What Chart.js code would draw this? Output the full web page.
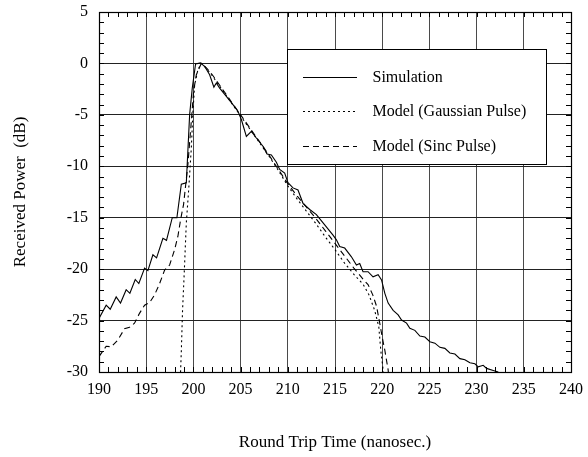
<!DOCTYPE html>
<html>
<head>
<meta charset="utf-8">
<script src="https://cdn.jsdelivr.net/npm/chart.js@4.4.1/dist/chart.umd.min.js"></script>
<style>
  html, body { margin: 0; padding: 0; background: #fff; }
  #wrap { width: 588px; height: 457px; }
</style>
</head>
<body>
<div id="wrap"><canvas id="c" width="588" height="457"></canvas></div>
<script>
// Received power vs. round trip time: simulation and two pulse models
const simTime = [190.0,190.76,191.19,191.82,192.28,192.88,193.27,193.84,194.22,194.83,195.18,195.71,196.1,196.77,197.15,197.76,198.25,198.72,199.25,199.6,199.88,200.23,200.75,201.2,201.72,202.17,202.43,202.78,203.49,204.19,204.72,205.08,205.61,206.14,206.67,207.37,207.8,208.26,208.79,209.14,209.67,210.02,210.55,211.08,211.61,212.32,213.03,213.91,214.79,215.15,215.5,216.03,216.74,217.27,217.62,217.97,218.5,219.03,219.57,219.93,220.28,220.63,221.16,221.69,222.05,222.58,222.93,223.46,223.99,224.52,225.05,225.58,226.11,226.64,227.17,227.7,228.23,228.76,229.29,229.82,230.17,230.7,231.06,231.76,232.3];
const simPower = [-24.8,-23.5,-23.9,-22.7,-23.3,-22.0,-22.35,-21.0,-21.4,-19.9,-20.15,-18.6,-18.9,-17.0,-17.2,-15.0,-15.0,-11.75,-11.6,-5.0,-2.4,-0.05,0.05,-0.3,-1.1,-2.3,-1.9,-2.4,-3.2,-4.0,-4.65,-5.45,-7.1,-6.6,-7.25,-8.05,-8.8,-8.9,-9.6,-10.3,-10.65,-11.6,-12.1,-12.3,-13.6,-14.2,-14.7,-15.7,-16.7,-17.15,-17.8,-17.95,-18.8,-19.6,-19.45,-20.25,-20.25,-20.75,-20.55,-21.05,-22.35,-23.3,-24.0,-24.45,-24.95,-25.25,-25.75,-25.95,-26.5,-26.6,-27.05,-27.2,-27.6,-27.7,-28.15,-28.25,-28.7,-28.8,-29.1,-29.2,-29.5,-29.35,-29.65,-29.85,-30.0];

const gaussTime = [198.6,198.72,198.85,199.0,199.25,199.52,199.78,199.95,200.13,200.48,200.85,201.4,202,203,204,205,206,207,208,209,210,211,212,213,214,215,216,217,218,218.6,219.2,219.64,219.85,220.1,220.2];
const gaussPower = [-31,-28,-24,-21,-15.5,-12.0,-8.2,-4.7,-2.1,-0.6,0,-0.5,-1.2,-2.5,-3.8,-5.1,-6.4,-7.7,-9.0,-10.4,-11.9,-13.2,-14.4,-15.6,-16.9,-18.1,-19.4,-20.5,-21.5,-22.5,-24.0,-25.6,-27.9,-29.8,-31];

const sincTime = [190.0,190.76,191.29,191.99,192.7,193.23,193.76,194.29,194.83,195.36,195.89,196.42,196.95,197.48,198.01,198.36,198.64,198.96,199.42,199.78,200.02,200.31,200.84,201.4,202,203,204,205,206,207,208,209,210,211,212,213,214,215,216,217,218,218.5,219,219.4,219.75,220.0,220.28,220.63,220.75];
const sincPower = [-28.5,-27.5,-27.55,-26.9,-25.8,-25.65,-25.25,-24.3,-23.5,-23.25,-22.5,-21.4,-20.1,-19.6,-18.1,-16.8,-15.2,-13.7,-9.8,-5.6,-2.7,-1.1,0.0,-0.45,-1.1,-2.4,-3.7,-5.0,-6.3,-7.6,-8.9,-10.3,-11.7,-12.9,-14.0,-15.1,-16.3,-17.5,-18.7,-19.9,-21.0,-21.5,-22.5,-23.6,-25.3,-26.6,-27.9,-29.8,-31];

const seriesNames = ['Simulation', 'Model (Gaussian Pulse)', 'Model (Sinc Pulse)'];
const xTicks = [190,195,200,205,210,215,220,225,230,235,240];
const yTicks = [-30,-25,-20,-15,-10,-5,0,5];

const pts = (xs, ys) => xs.map((x, i) => ({ x: x, y: ys[i] }));
const serif = 'Liberation Serif, Times New Roman, serif';

// Minor tick marks pointing into the plot on all four sides, plus the frame
const frameTicks = {
  id: 'frameTicks',
  afterDatasetsDraw(chart) {
    const { ctx, chartArea: a, scales: { x, y } } = chart;
    ctx.save();
    ctx.strokeStyle = '#000';
    ctx.lineWidth = 1;
    ctx.beginPath();
    for (let v = xTicks[0]; v <= xTicks[xTicks.length - 1]; v++) {
      const px = Math.round(x.getPixelForValue(v)) + 0.5;
      ctx.moveTo(px, a.bottom); ctx.lineTo(px, a.bottom - 5);
      ctx.moveTo(px, a.top); ctx.lineTo(px, a.top + 5);
    }
    for (let v = yTicks[0]; v <= yTicks[yTicks.length - 1]; v++) {
      const py = Math.round(y.getPixelForValue(v)) + 0.5;
      ctx.moveTo(a.left, py); ctx.lineTo(a.left + 5, py);
      ctx.moveTo(a.right, py); ctx.lineTo(a.right - 5, py);
    }
    ctx.stroke();
    ctx.lineWidth = 1.2;
    ctx.strokeRect(Math.round(a.left) + 0.5, Math.round(a.top) + 0.5,
                   Math.round(a.right - a.left), Math.round(a.bottom - a.top));
    ctx.restore();
  }
};

// Boxed legend inside the upper right of the plot
const boxLegend = {
  id: 'boxLegend',
  afterDatasetsDraw(chart) {
    const { ctx } = chart;
    const bx = 287.5, by = 49.5, bw = 259, bh = 115;
    ctx.save();
    ctx.fillStyle = '#fff';
    ctx.fillRect(bx, by, bw, bh);
    ctx.strokeStyle = '#000';
    ctx.lineWidth = 1;
    ctx.strokeRect(bx, by, bw, bh);
    const rows = [77.5, 111.5, 146.5];
    chart.data.datasets.forEach((ds, i) => {
      ctx.beginPath();
      ctx.setLineDash(ds.borderDash || []);
      ctx.strokeStyle = ds.borderColor;
      ctx.lineWidth = ds.borderWidth;
      ctx.moveTo(303, rows[i]);
      ctx.lineTo(357, rows[i]);
      ctx.stroke();
      ctx.setLineDash([]);
      ctx.fillStyle = '#000';
      ctx.font = '16px ' + serif;
      ctx.textBaseline = 'middle';
      ctx.textAlign = 'left';
      ctx.fillText(ds.label, 372.5, rows[i]);
    });
    ctx.restore();
  }
};

new Chart(document.getElementById('c'), {
  type: 'line',
  data: {
    datasets: [
      { label: seriesNames[0], data: pts(simTime, simPower), borderColor: '#000', borderWidth: 1.1, pointRadius: 0, tension: 0 },
      { label: seriesNames[1], data: pts(gaussTime, gaussPower), borderColor: '#000', borderWidth: 1.1, borderDash: [2, 3], pointRadius: 0, tension: 0 },
      { label: seriesNames[2], data: pts(sincTime, sincPower), borderColor: '#000', borderWidth: 1.1, borderDash: [6, 4], pointRadius: 0, tension: 0 }
    ]
  },
  options: {
    responsive: false,
    animation: false,
    layout: { padding: { top: 12, right: 17, left: 0, bottom: 0 } },
    plugins: { legend: { display: false }, tooltip: { enabled: false } },
    scales: {
      x: {
        type: 'linear',
        min: xTicks[0], max: xTicks[xTicks.length - 1],
        afterBuildTicks: s => { s.ticks = xTicks.map(v => ({ value: v })); },
        afterFit: s => { s.height = 85; s.paddingLeft = 0; s.paddingRight = 0; },
        ticks: { color: '#000', font: { family: serif, size: 16 }, padding: 8, maxRotation: 0 },
        grid: { color: '#4a4a4a', lineWidth: 1, drawTicks: false },
        border: { display: false },
        title: { display: true, text: 'Round Trip Time (nanosec.)', color: '#000', font: { family: serif, size: 17 }, padding: { top: 0, bottom: 4 } }
      },
      y: {
        min: yTicks[0], max: yTicks[yTicks.length - 1],
        afterBuildTicks: s => { s.ticks = yTicks.map(v => ({ value: v })); },
        afterFit: s => { s.width = 99; s.paddingTop = 0; s.paddingBottom = 0; },
        ticks: { color: '#000', font: { family: serif, size: 16 }, padding: 11 },
        grid: { color: '#222', lineWidth: 1, drawTicks: false },
        border: { display: false },
        title: { display: true, text: 'Received Power  (dB)', color: '#000', font: { family: serif, size: 17 }, padding: { top: 10, bottom: 0 } }
      }
    }
  },
  plugins: [frameTicks, boxLegend]
});
</script>
</body>
</html>
